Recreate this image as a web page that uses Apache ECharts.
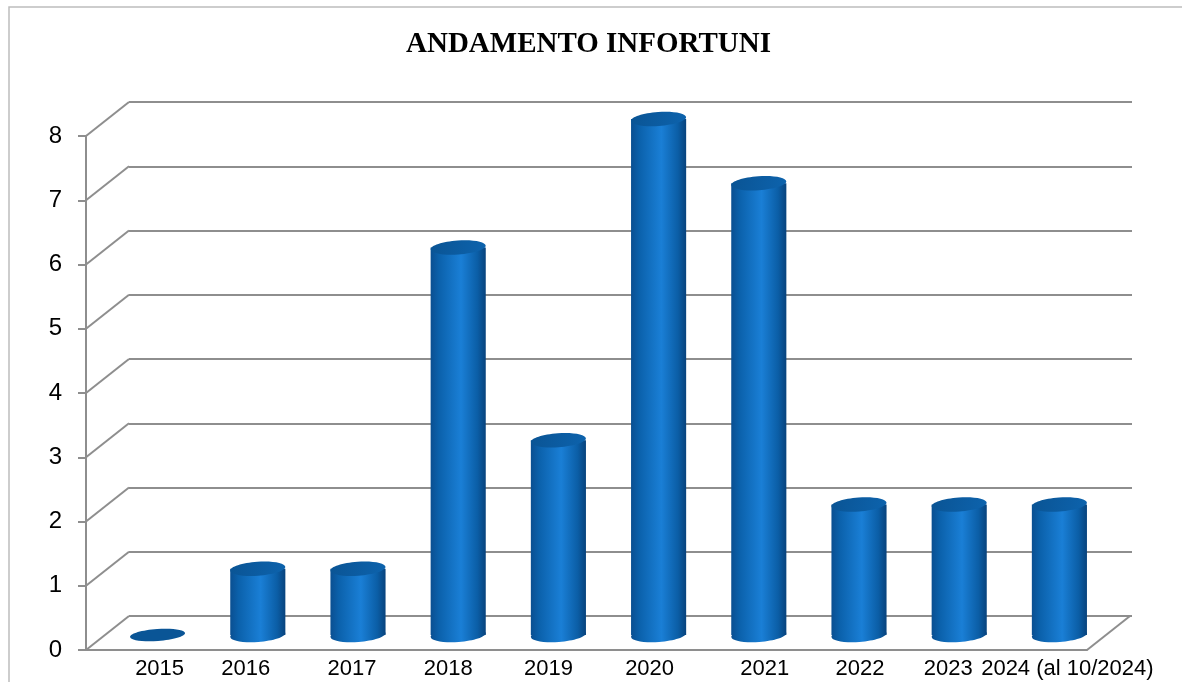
<!DOCTYPE html>
<html>
<head>
<meta charset="utf-8">
<script src="https://cdn.jsdelivr.net/npm/echarts@6/dist/echarts.min.js"></script>
<style>html,body{margin:0;padding:0;background:#fff}#c{width:1182px;height:682px}</style>
</head>
<body>
<div id="c"></div>
<script>
const titleText = 'ANDAMENTO INFORTUNI';
const categories = ['2015','2016','2017','2018','2019','2020','2021','2022','2023','2024 (al 10/2024)'];
const values = [0, 1, 1, 6, 3, 8, 7, 2, 2, 2];
const yTicks = [0, 1, 2, 3, 4, 5, 6, 7, 8];

const DX = 43, DY = -34;          // depth offset of back wall
const LINE = '#8e8e8e';
const FONT = 'Liberation Sans';
// horizontal nudge of each category label (px), as Excel places them
const labelNudge = [2, -12, -6, -10, -10, -9, 6, 1, -11, 8];

const chart = echarts.init(document.getElementById('c'), null, {renderer: 'canvas'});

function bodyGrad() {
  return new echarts.graphic.LinearGradient(0, 0, 1, 0, [
    {offset: 0, color: '#0a4f91'},
    {offset: 0.15, color: '#0b61ab'},
    {offset: 0.55, color: '#1a7fd6'},
    {offset: 0.85, color: '#0b5ea6'},
    {offset: 1, color: '#08437d'}
  ]);
}

const labelData = categories.map((c, i) => {
  const n = labelNudge[i];
  return {value: c, textStyle: {padding: n >= 0 ? [0, 0, 0, 2 * n] : [0, -2 * n, 0, 0]}};
});

const option = {
  animation: false,
  backgroundColor: '#fff',
  title: {
    text: titleText, left: 401, top: 25,
    textStyle: {fontFamily: 'Liberation Serif', fontWeight: 'bold', fontSize: 29, color: '#000'}
  },
  graphic: [{
    type: 'rect', silent: true, z: -10,
    shape: {x: 9, y: 7, width: 1200, height: 700},
    style: {fill: 'none', stroke: '#bdbdbd', lineWidth: 1.5}
  }],
  grid: [
    {left: 86, top: 136, width: 1001, height: 514},
    {left: 86 + DX, top: 136 + DY, width: 1001 + 2, height: 514},
    {left: 86 + DX / 2, top: 136 + DY / 2, width: 1001 + 1, height: 514}
  ],
  xAxis: [
    {gridIndex: 0, type: 'category', data: categories, boundaryGap: true,
     axisLine: {show: true, lineStyle: {color: LINE, width: 2}},
     axisTick: {show: false}, axisLabel: {show: false}, splitLine: {show: false}},
    {gridIndex: 1, type: 'category', data: categories, show: false},
    {gridIndex: 2, type: 'category', data: labelData, boundaryGap: true,
     axisLine: {show: false}, axisTick: {show: false}, splitLine: {show: false},
     axisLabel: {show: true, interval: 0, margin: 25, color: '#000', fontFamily: FONT, fontSize: 22}}
  ],
  yAxis: [
    {gridIndex: 0, type: 'value', min: 0, max: 8, interval: 1,
     axisLine: {show: true, lineStyle: {color: LINE, width: 2}},
     axisTick: {show: true, length: 8, lineStyle: {color: LINE, width: 2}},
     axisLabel: {show: true, margin: 24, color: '#000', fontFamily: FONT, fontSize: 24},
     splitLine: {show: false}},
    {gridIndex: 1, type: 'value', min: 0, max: 8, interval: 1,
     axisLine: {show: false}, axisTick: {show: false}, axisLabel: {show: false},
     splitLine: {show: true, lineStyle: {color: LINE, width: 2}}},
    {gridIndex: 2, type: 'value', min: 0, max: 8, interval: 1, show: false}
  ],
  series: [
    {
      // side diagonals (left wall edges) and floor right edge
      type: 'custom', xAxisIndex: 0, yAxisIndex: 0, silent: true, z: 1,
      data: yTicks.map(v => [0, v]),
      renderItem: function (params, api) {
        const cs = params.coordSys;
        const y = api.coord([0, api.value(1)])[1];
        const children = [{
          type: 'line',
          shape: {x1: cs.x, y1: y, x2: cs.x + DX, y2: y + DY},
          style: {stroke: LINE, lineWidth: 2}
        }];
        if (api.value(1) === 0) {
          children.push({
            type: 'line',
            shape: {x1: cs.x + cs.width, y1: y, x2: cs.x + cs.width + DX, y2: y + DY},
            style: {stroke: LINE, lineWidth: 2}
          });
        }
        return {type: 'group', children: children};
      }
    },
    {
      // cylinders
      type: 'custom', xAxisIndex: 2, yAxisIndex: 2, z: 5,
      data: values.map((v, i) => [i, v]),
      encode: {x: 0, y: 1},
      renderItem: function (params, api) {
        const i = api.value(0), v = api.value(1);
        const top = api.coord([i, v]);
        const bot = api.coord([i, 0]);
        const bw = api.size([1, 0])[0] * 0.55;
        const rx = bw / 2, ry = 7;
        const cx = top[0];
        const rot = 0.07;
        const children = [];
        if (v > 0) {
          children.push({
            type: 'ellipse',
            shape: {cx: cx, cy: bot[1] + 2, rx: rx, ry: ry},
            rotation: rot, originX: cx, originY: bot[1] + 2,
            style: {fill: bodyGrad()}
          });
          children.push({
            type: 'rect',
            shape: {x: cx - rx, y: top[1], width: bw, height: bot[1] + 2 - top[1]},
            style: {fill: bodyGrad()}
          });
          children.push({
            type: 'ellipse',
            shape: {cx: cx, cy: top[1], rx: rx, ry: ry},
            rotation: rot, originX: cx, originY: top[1],
            style: {fill: new echarts.graphic.LinearGradient(0, 0, 1, 1, [
              {offset: 0, color: '#0a5494'}, {offset: 1, color: '#0d63ad'}])}
          });
        } else {
          children.push({
            type: 'ellipse',
            shape: {cx: cx, cy: bot[1] + 2, rx: rx, ry: ry - 1},
            rotation: rot, originX: cx, originY: bot[1] + 2,
            style: {fill: '#0a5596'}
          });
        }
        return {type: 'group', children: children};
      }
    }
  ]
};
chart.setOption(option);
</script>
</body>
</html>
